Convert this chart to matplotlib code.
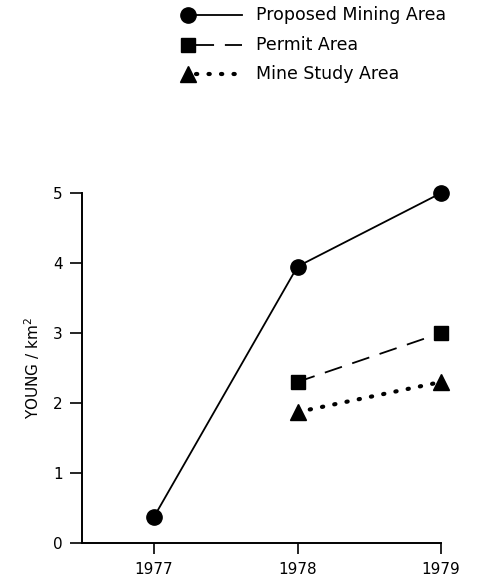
import matplotlib.pyplot as plt
from matplotlib.lines import Line2D

years = [1977, 1978, 1979]
proposed = [0.37, 3.95, 5.0]
permit_years = [1978, 1979]
permit = [2.3, 3.0]
study_years = [1978, 1979]
study = [1.87, 2.3]
labels = ["Proposed Mining Area", "Permit Area", "Mine Study Area"]

plt.rcParams['font.family'] = ['DejaVu Sans']

fig = plt.figure(figsize=(4.89, 5.85), dpi=100)
ax = fig.add_axes([0.168, 0.072, 0.734, 0.598])

ax.plot(years, proposed, '-', color='black', lw=1.3, marker='o', ms=11,
        clip_on=False)
ax.plot(permit_years, permit, color='black', lw=1.3, ls=(0, (10, 6)),
        marker='s', ms=10.5, clip_on=False)
ax.plot(study_years, study, color='black', lw=3, ls=(0, (0.3, 2.7)),
        dash_capstyle='round', marker='^', ms=12, clip_on=False)

ax.set_xlim(1976.5, 1979.0)
ax.set_ylim(0, 5)
ax.set_xticks(years)
ax.set_yticks(range(6))
ax.spines['top'].set_visible(False)
ax.spines['right'].set_visible(False)
for s in ['left', 'bottom']:
    ax.spines[s].set_linewidth(1.4)
ax.tick_params(axis='y', direction='out', length=9, width=1.2, labelsize=11, pad=5)
ax.tick_params(axis='x', direction='out', length=8, width=1.2, labelsize=11, pad=6)
ax.set_ylabel('YOUNG / km$^2$', fontsize=11, labelpad=8)

# hand-made legend at the top of the figure
styles = [dict(ls='-', lw=1.3, marker='o', ms=11),
          dict(ls=(0, (10, 6)), lw=1.3, marker='s', ms=10.5),
          dict(ls=(0, (0.3, 2.7)), lw=3, marker='^', ms=12, dash_capstyle='round')]
rows = [15, 45, 74]
for lab, st, r in zip(labels, styles, rows):
    yf = 1 - r / 585
    mk = st.pop('marker')
    ms = st.pop('ms')
    fig.add_artist(Line2D([196 / 489, 242 / 489], [yf, yf], color='black',
                          transform=fig.transFigure, **st))
    fig.add_artist(Line2D([188 / 489], [yf], color='black', marker=mk, ms=ms,
                          ls='none', transform=fig.transFigure))
    fig.text(256 / 489, yf, lab, fontsize=12.5, va='center', ha='left')

fig.savefig('out.png')
